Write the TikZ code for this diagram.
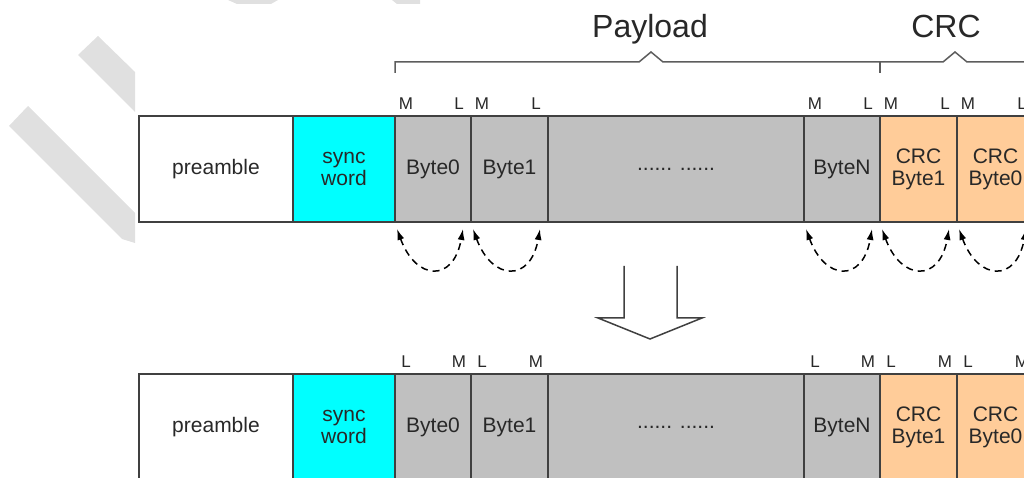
\documentclass[tikz,border=0pt]{standalone}
\usepackage{fontspec}
\setmainfont{Liberation Sans}
\usepackage{tikz}
\usetikzlibrary{arrows.meta, positioning, calc}

\definecolor{linegray}{HTML}{404040}
\definecolor{txtgray}{HTML}{282828}
\definecolor{bytegray}{HTML}{C0C0C0}
\definecolor{synccyan}{HTML}{00FFFF}
\definecolor{crcorange}{HTML}{FFCC99}
\definecolor{markgray}{HTML}{E0E0E0}

% bit order letters over one byte field
\newcommand{\bytemarks}[3]{%
  \node[bit, anchor=base] (#1-l) at ([xshift=11pt,yshift=6pt]#1.north west) {#2};
  \node[bit, anchor=base] (#1-r) at ([xshift=-12pt,yshift=6pt]#1.north east) {#3};}

\begin{document}
\begin{tikzpicture}[
    x=1pt, y=1pt,
    field/.style={rectangle, draw=linegray, line width=1.5pt, outer sep=0pt, inner sep=0pt, minimum height=106pt, align=center, text=txtgray, font=\fontsize{21}{22}\selectfont},
    bit/.style={inner sep=0pt, text=txtgray, font=\fontsize{17}{17}\selectfont},
    title/.style={inner sep=0pt, text=txtgray, font=\fontsize{32}{32}\selectfont},
    swaparrow/.style={{Latex[length=11pt,width=7pt]}-{Latex[length=11pt,width=7pt]}, line width=1.5pt, dash pattern=on 7pt off 5pt},
    braceline/.style={draw=linegray!85, line width=1.5pt},
]
\useasboundingbox (0,0) rectangle (1024,478);

% watermark stripes
\fill[markgray] (98,442) -- (78,423) -- (135,366) -- (135,406) -- cycle;
\fill[markgray] (28,372) -- (9,352) -- (122,239) -- (135,235) -- (135,265) -- cycle;
\fill[markgray] (228,478) -- (278,478) -- (271,474) -- (237,474) -- cycle;
\fill[markgray] (392,478) -- (420,478) -- (420,474) -- (397,474) -- cycle;

% Top row (MSB first)
\node[field, minimum width=154pt] (pre1) at (216,309) {preamble};
\node[field, fill=synccyan, minimum width=102pt, right=0pt of pre1] (sync1) {sync\\word};
\node[field, fill=bytegray, minimum width=76pt, right=0pt of sync1] (b01) {Byte0};
\node[field, fill=bytegray, minimum width=77pt, right=0pt of b01] (b11) {Byte1};
\node[field, fill=bytegray, minimum width=256pt, right=0pt of b11] (dots1) {...... ......};
\node[field, fill=bytegray, minimum width=76pt, right=0pt of dots1] (bn1) {ByteN};
\node[field, fill=crcorange, minimum width=77pt, right=0pt of bn1] (c11) {CRC\\Byte1};
\node[field, fill=crcorange, minimum width=77pt, right=0pt of c11] (c01) {CRC\\Byte0};

\bytemarks{b01}{M}{L}
\bytemarks{b11}{M}{L}
\bytemarks{bn1}{M}{L}
\bytemarks{c11}{M}{L}
\bytemarks{c01}{M}{L}

% Braces
\node[title, anchor=base] (payload) at (650,440) {Payload};
\node[title, anchor=base] (crc) at (946,440) {CRC};
\draw[braceline] (395,405) -- (395,416) -- (639,416) -- (651,426) -- (663,416) -- (943,416) -- (955,426) -- (967,416) -- (1030,416);
\draw[braceline] (880,416) -- (880,405);

% Bit swaps
\draw[swaparrow] ([xshift=2pt,yshift=-7pt]b01.south west) .. controls +(-70:55) and +(-100:55) .. ([xshift=-8pt,yshift=-7pt]b01.south east);
\draw[swaparrow] ([xshift=2pt,yshift=-7pt]b11.south west) .. controls +(-70:55) and +(-100:55) .. ([xshift=-8pt,yshift=-7pt]b11.south east);
\draw[swaparrow] ([xshift=2pt,yshift=-7pt]bn1.south west) .. controls +(-70:55) and +(-100:55) .. ([xshift=-8pt,yshift=-7pt]bn1.south east);
\draw[swaparrow] ([xshift=2pt,yshift=-7pt]c11.south west) .. controls +(-70:55) and +(-100:55) .. ([xshift=-8pt,yshift=-7pt]c11.south east);
\draw[swaparrow] ([xshift=2pt,yshift=-7pt]c01.south west) .. controls +(-70:55) and +(-100:55) .. ([xshift=-8pt,yshift=-7pt]c01.south east);

% Hollow arrow
\draw[linegray, line width=1.5pt, line join=miter] (624,212) -- (624,160) -- (598,160) -- (650,139) -- (702,160) -- (677,160) -- (677,212);

% Bottom row (LSB first)
\node[field, minimum width=154pt] (pre2) at (216,51) {preamble};
\node[field, fill=synccyan, minimum width=102pt, right=0pt of pre2] (sync2) {sync\\word};
\node[field, fill=bytegray, minimum width=76pt, right=0pt of sync2] (b02) {Byte0};
\node[field, fill=bytegray, minimum width=77pt, right=0pt of b02] (b12) {Byte1};
\node[field, fill=bytegray, minimum width=256pt, right=0pt of b12] (dots2) {...... ......};
\node[field, fill=bytegray, minimum width=76pt, right=0pt of dots2] (bn2) {ByteN};
\node[field, fill=crcorange, minimum width=77pt, right=0pt of bn2] (c12) {CRC\\Byte1};
\node[field, fill=crcorange, minimum width=77pt, right=0pt of c12] (c02) {CRC\\Byte0};

\bytemarks{b02}{L}{M}
\bytemarks{b12}{L}{M}
\bytemarks{bn2}{L}{M}
\bytemarks{c12}{L}{M}
\bytemarks{c02}{L}{M}

\end{tikzpicture}
\end{document}
